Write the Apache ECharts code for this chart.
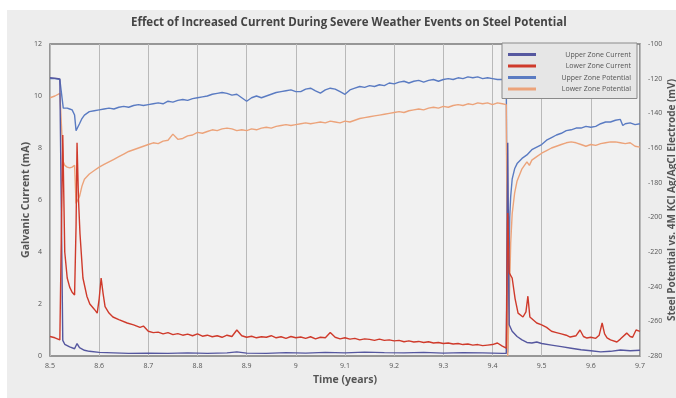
<!DOCTYPE html>
<html>
<head>
<meta charset="utf-8">
<script src="https://cdn.jsdelivr.net/npm/echarts@6/dist/echarts.min.js"></script>
<style>
html,body{margin:0;padding:0;background:#ffffff;}
#c{width:676px;height:398px;}
</style>
</head>
<body>
<div id="c"></div>
<script>
const chartTitle = 'Effect of Increased Current During Severe Weather Events on Steel Potential';
const seriesNames = ['Upper Zone Current', 'Lower Zone Current', 'Upper Zone Potential', 'Lower Zone Potential'];
const xTicks = { min: 8.5, max: 9.7, step: 0.1 };
const leftTicks = { min: 0, max: 12, step: 2 };
const rightTicks = { min: -280, max: -100, step: 20 };

// Upper zone current (mA) [time, value]
const upperZoneCurrent = [[8.50,10.70],[8.51,10.68],[8.52,10.66],[8.524,10.6],[8.526,0.6],[8.53,0.45],[8.54,0.35],[8.55,0.28],[8.555,0.48],[8.56,0.32],[8.57,0.22],[8.58,0.18],[8.60,0.14],[8.63,0.12],[8.66,0.1],[8.70,0.11],[8.74,0.1],[8.78,0.12],[8.82,0.1],[8.86,0.12],[8.88,0.16],[8.90,0.11],[8.94,0.1],[8.98,0.13],[9.02,0.11],[9.06,0.14],[9.10,0.12],[9.14,0.15],[9.18,0.13],[9.22,0.12],[9.26,0.14],[9.30,0.11],[9.34,0.13],[9.38,0.12],[9.42,0.1],[9.428,0.1],[9.431,8.2],[9.434,1.2],[9.44,0.95],[9.45,0.75],[9.46,0.62],[9.47,0.52],[9.48,0.5],[9.49,0.54],[9.50,0.48],[9.52,0.42],[9.54,0.36],[9.56,0.3],[9.58,0.24],[9.60,0.2],[9.62,0.16],[9.64,0.18],[9.66,0.23],[9.68,0.2],[9.70,0.22]];

// Lower zone current (mA)
const lowerZoneCurrent = [[8.50,0.75],[8.51,0.7],[8.52,0.62],[8.524,0.58],[8.526,8.5],[8.53,4.0],[8.535,3.0],[8.54,2.65],[8.545,2.45],[8.55,2.35],[8.553,5.0],[8.555,8.2],[8.558,6.0],[8.561,4.7],[8.567,3.0],[8.575,2.3],[8.581,2.0],[8.59,1.8],[8.596,1.65],[8.600,2.2],[8.604,3.0],[8.608,2.4],[8.612,1.9],[8.62,1.65],[8.628,1.5],[8.64,1.4],[8.657,1.27],[8.67,1.2],[8.683,1.1],[8.69,1.15],[8.70,0.95],[8.71,0.9],[8.72,0.92],[8.73,0.85],[8.74,0.9],[8.75,0.82],[8.76,0.86],[8.77,0.8],[8.78,0.84],[8.79,0.78],[8.80,0.85],[8.81,0.76],[8.82,0.8],[8.83,0.74],[8.84,0.78],[8.85,0.72],[8.86,0.8],[8.87,0.75],[8.88,1.0],[8.89,0.78],[8.90,0.72],[8.91,0.76],[8.92,0.7],[8.93,0.74],[8.94,0.72],[8.95,0.78],[8.96,0.7],[8.97,0.74],[8.98,0.68],[8.99,0.75],[9.00,0.7],[9.01,0.73],[9.02,0.68],[9.03,0.74],[9.04,0.66],[9.05,0.72],[9.06,0.7],[9.07,0.9],[9.08,0.72],[9.09,0.66],[9.10,0.7],[9.11,0.65],[9.12,0.68],[9.13,0.62],[9.14,0.66],[9.15,0.64],[9.16,0.6],[9.17,0.65],[9.18,0.6],[9.19,0.62],[9.20,0.58],[9.21,0.6],[9.22,0.55],[9.23,0.58],[9.24,0.54],[9.25,0.56],[9.26,0.52],[9.27,0.55],[9.28,0.5],[9.29,0.52],[9.30,0.48],[9.31,0.5],[9.32,0.46],[9.33,0.48],[9.34,0.44],[9.35,0.46],[9.36,0.42],[9.37,0.44],[9.38,0.4],[9.39,0.42],[9.40,0.44],[9.41,0.5],[9.42,0.38],[9.428,0.3],[9.431,5.5],[9.434,3.2],[9.44,3.0],[9.446,2.2],[9.452,1.65],[9.462,1.5],[9.468,1.7],[9.472,2.3],[9.476,1.5],[9.49,1.27],[9.50,1.2],[9.51,1.1],[9.52,0.95],[9.53,0.9],[9.54,0.85],[9.55,0.8],[9.558,0.73],[9.57,0.78],[9.578,1.0],[9.585,0.75],[9.592,0.69],[9.60,0.72],[9.61,0.68],[9.617,0.8],[9.623,1.27],[9.628,0.85],[9.633,0.7],[9.64,0.62],[9.653,0.54],[9.66,0.65],[9.673,0.88],[9.68,0.75],[9.685,0.72],[9.692,1.0],[9.70,0.95]];

// Upper zone potential (mV)
const upperZonePotential = [[8.50,-120],[8.51,-120],[8.52,-120.5],[8.524,-121],[8.527,-137],[8.53,-138],[8.535,-137],[8.54,-137.5],[8.545,-138],[8.55,-141],[8.553,-150],[8.556,-150],[8.56,-146],[8.565,-143],[8.57,-141],[8.58,-139],[8.59,-138.5],[8.60,-138],[8.61,-137.5],[8.62,-137],[8.63,-137.5],[8.64,-136.5],[8.65,-136],[8.66,-136.5],[8.67,-135.5],[8.68,-135],[8.69,-135.5],[8.70,-135],[8.71,-134.5],[8.72,-134],[8.73,-134.5],[8.74,-133],[8.75,-133.5],[8.76,-132.5],[8.77,-132],[8.78,-132.5],[8.79,-131.5],[8.80,-131],[8.81,-130.5],[8.82,-130],[8.83,-129],[8.84,-128.5],[8.85,-128],[8.86,-128.5],[8.87,-129.5],[8.88,-129],[8.89,-131],[8.90,-133],[8.91,-131],[8.92,-130],[8.93,-131],[8.94,-130],[8.95,-129],[8.96,-128],[8.97,-127.5],[8.98,-127],[8.99,-126.5],[9.00,-127.5],[9.01,-127.5],[9.02,-126],[9.03,-125.5],[9.04,-127],[9.05,-128.3],[9.06,-126.5],[9.07,-125.5],[9.08,-126],[9.09,-127.5],[9.10,-129],[9.11,-126.5],[9.12,-125.5],[9.13,-124.5],[9.14,-125],[9.15,-124],[9.16,-124.5],[9.17,-123.5],[9.18,-124],[9.19,-122.5],[9.20,-123],[9.21,-122],[9.22,-121.5],[9.23,-122.5],[9.24,-121.5],[9.25,-121],[9.26,-122],[9.27,-121],[9.28,-120.5],[9.29,-121.5],[9.30,-120.5],[9.31,-120],[9.32,-120.5],[9.33,-119.5],[9.34,-120],[9.35,-119],[9.36,-119.5],[9.37,-119],[9.38,-120],[9.39,-119.5],[9.40,-120],[9.41,-120.5],[9.42,-120.5],[9.428,-121],[9.431,-278],[9.433,-240],[9.435,-200],[9.437,-188],[9.44,-178],[9.445,-172],[9.45,-169],[9.46,-166],[9.47,-164],[9.48,-161],[9.49,-159.5],[9.50,-158],[9.51,-155.5],[9.52,-154],[9.53,-152.5],[9.54,-151.5],[9.55,-150],[9.56,-149.5],[9.57,-148.5],[9.58,-148.5],[9.59,-147.5],[9.60,-148],[9.61,-147.5],[9.62,-146],[9.63,-145],[9.64,-145],[9.65,-144],[9.66,-143.5],[9.665,-147],[9.67,-146],[9.68,-145.5],[9.69,-146.5],[9.70,-146]];

// Lower zone potential (mV)
const lowerZonePotential = [[8.50,-131],[8.51,-130],[8.52,-128.5],[8.524,-128],[8.527,-168],[8.53,-170],[8.535,-171],[8.54,-171.5],[8.545,-171],[8.55,-170],[8.553,-192],[8.556,-193],[8.56,-188],[8.565,-182],[8.57,-178],[8.58,-175],[8.59,-173],[8.60,-171],[8.61,-169.5],[8.62,-168],[8.63,-166.5],[8.64,-165],[8.65,-163.5],[8.66,-162],[8.67,-161],[8.68,-160],[8.69,-159],[8.70,-158],[8.71,-157],[8.72,-157.5],[8.73,-156],[8.74,-155.5],[8.75,-152],[8.76,-155],[8.77,-154.5],[8.78,-153],[8.79,-152.5],[8.80,-151],[8.81,-151.5],[8.82,-150.5],[8.83,-149.5],[8.84,-150],[8.85,-149],[8.86,-148.5],[8.87,-149],[8.88,-150],[8.89,-149.5],[8.90,-150],[8.91,-149],[8.92,-149.5],[8.93,-148.5],[8.94,-148],[8.95,-148.5],[8.96,-147.5],[8.97,-147],[8.98,-146.5],[8.99,-147],[9.00,-146.5],[9.01,-146],[9.02,-145.5],[9.03,-146],[9.04,-145.5],[9.05,-145],[9.06,-145.5],[9.07,-144.5],[9.08,-145],[9.09,-145.5],[9.10,-144.5],[9.11,-145],[9.12,-144],[9.13,-143],[9.14,-142.5],[9.15,-142],[9.16,-141.5],[9.17,-141],[9.18,-140.5],[9.19,-140],[9.20,-139.5],[9.21,-139],[9.22,-139.5],[9.23,-138.5],[9.24,-138],[9.25,-137.5],[9.26,-138],[9.27,-137],[9.28,-136.5],[9.29,-137],[9.30,-136],[9.31,-136.5],[9.32,-135.5],[9.33,-135],[9.34,-135.5],[9.35,-134.5],[9.36,-135],[9.37,-134],[9.38,-134.5],[9.39,-134],[9.40,-135],[9.41,-134],[9.42,-134.5],[9.428,-135],[9.431,-280],[9.434,-250],[9.437,-215],[9.44,-198],[9.445,-186],[9.45,-179],[9.46,-172],[9.47,-168],[9.475,-170],[9.48,-167],[9.49,-165],[9.50,-163],[9.51,-161.5],[9.52,-160],[9.53,-159],[9.54,-158],[9.55,-157],[9.56,-156.5],[9.57,-157],[9.58,-158],[9.59,-159],[9.60,-158],[9.61,-158.5],[9.62,-157.5],[9.63,-157],[9.64,-156.5],[9.65,-156.5],[9.66,-157],[9.67,-157.5],[9.68,-157],[9.69,-159],[9.70,-159.5]];

const colors = ['#55579f', '#cf3a2b', '#5a7bc2', '#eca37a'];

const chart = echarts.init(document.getElementById('c'), null, { renderer: 'canvas' });
const labelStyle = { fontSize: 7, color: '#555', fontFamily: 'Open Sans' };
const nameStyle = { fontSize: 10.5, color: '#555', fontWeight: 'bold', fontFamily: 'Open Sans' };

chart.setOption({
  animation: false,
  backgroundColor: '#ffffff',
  color: colors,
  graphic: [{
    type: 'rect', z: -10, silent: true,
    shape: { x: 7, y: 10, width: 669, height: 388 },
    style: { fill: '#ededed' }
  }],
  title: {
    text: chartTitle,
    left: 126, top: 12,
    textStyle: { fontSize: 11.5, fontWeight: 'bold', color: '#444', fontFamily: 'Open Sans' }
  },
  legend: {
    data: seriesNames,
    orient: 'vertical',
    right: 39, top: 43,
    padding: [8, 6, 6, 6],
    itemGap: 4.5,
    itemWidth: 28, itemHeight: 3,
    icon: 'rect',
    backgroundColor: '#e6e6e6',
    borderColor: '#8a8a8a', borderWidth: 1,
    formatter: name => '{a|' + name + '}',
    textStyle: {
      fontSize: 7, color: '#555', fontFamily: 'Open Sans',
      rich: { a: { width: 90, align: 'right', fontSize: 7, color: '#555', fontFamily: 'Open Sans' } }
    }
  },
  grid: {
    left: 50, right: 36, top: 44, bottom: 42,
    outerBoundsMode: 'none',
    containLabel: false,
    show: true, backgroundColor: '#f1f1f1', borderColor: '#7a7a7a', borderWidth: 1.5
  },
  xAxis: {
    type: 'value', min: xTicks.min, max: xTicks.max, interval: xTicks.step,
    name: 'Time (years)', nameLocation: 'middle', nameGap: 19, nameTextStyle: nameStyle,
    nameMoveOverlap: false,
    axisLine: { show: false }, axisTick: { show: false },
    axisLabel: Object.assign({ margin: 6, formatter: v => String(Math.round(v * 10) / 10) }, labelStyle),
    splitLine: { show: true, lineStyle: { color: '#b9b9b9', width: 1 } }
  },
  yAxis: [{
    type: 'value', min: leftTicks.min, max: leftTicks.max, interval: leftTicks.step,
    name: 'Galvanic Current (mA)', nameLocation: 'middle', nameGap: 18, nameTextStyle: nameStyle,
    nameMoveOverlap: false,
    axisLine: { show: false }, axisTick: { show: false },
    axisLabel: Object.assign({ margin: 8 }, labelStyle),
    splitLine: { show: false }
  }, {
    type: 'value', min: rightTicks.min, max: rightTicks.max, interval: rightTicks.step,
    name: 'Steel Potential vs. 4M KCl Ag/AgCl Electrode (mV)', nameLocation: 'middle', nameGap: 27,
    nameTextStyle: Object.assign({}, nameStyle, { fontSize: 10 }),
    nameRotate: 90,
    nameMoveOverlap: false,
    axisLine: { show: false }, axisTick: { show: false },
    axisLabel: Object.assign({ margin: 8 }, labelStyle),
    splitLine: { show: false }
  }],
  series: [
    { name: seriesNames[0], type: 'line', yAxisIndex: 0, data: upperZoneCurrent, showSymbol: false, lineStyle: { width: 1.4 }, z: 3 },
    { name: seriesNames[1], type: 'line', yAxisIndex: 0, data: lowerZoneCurrent, showSymbol: false, lineStyle: { width: 1.4 }, z: 4 },
    { name: seriesNames[2], type: 'line', yAxisIndex: 1, data: upperZonePotential, showSymbol: false, lineStyle: { width: 1.4 }, z: 2 },
    { name: seriesNames[3], type: 'line', yAxisIndex: 1, data: lowerZonePotential, showSymbol: false, lineStyle: { width: 1.4 }, z: 2 }
  ]
});
</script>
</body>
</html>
